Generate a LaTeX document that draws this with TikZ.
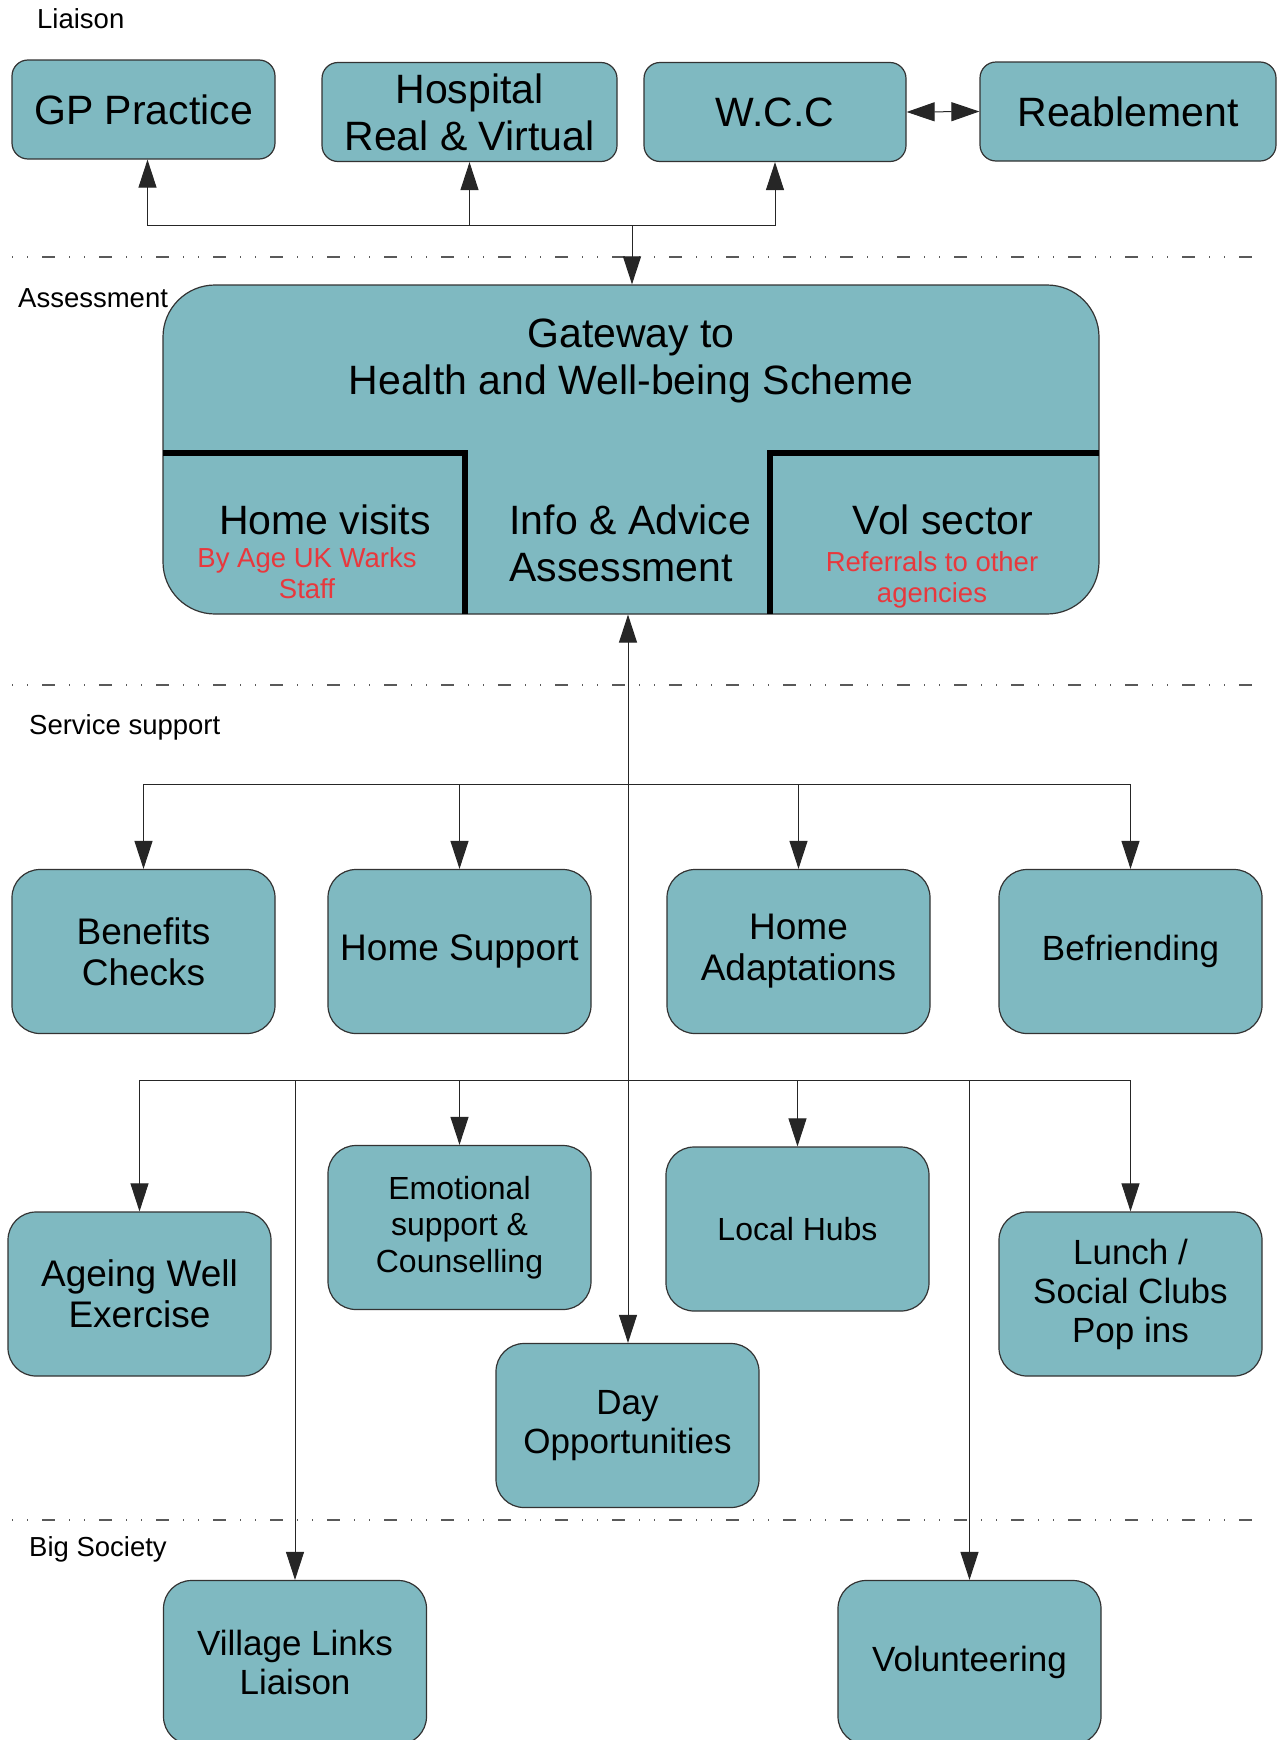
\documentclass[tikz,border=0pt]{standalone}
\usepackage{fontspec}
\setmainfont{Liberation Sans}
\usetikzlibrary{arrows.meta}
\definecolor{boxfill}{RGB}{127,185,193}
\definecolor{notered}{RGB}{232,56,61}
\newcommand{\bigtxt}{\fontsize{41}{47}\selectfont}
\newcommand{\midtxt}{\fontsize{37}{41}\selectfont}
\newcommand{\rowtxt}{\fontsize{35}{39}\selectfont}
\newcommand{\smalltxt}{\fontsize{32}{36.6}\selectfont}
\newcommand{\notetxt}{\fontsize{27.5}{31}\selectfont}

\begin{document}
\begin{tikzpicture}[x=1pt, y=-1pt,
  box/.style={rectangle, draw=black!80, fill=boxfill, line width=1.2pt, rounded corners=28pt, align=center, inner sep=0pt, minimum width=263pt, minimum height=164pt},
  topbox/.style={box, rounded corners=16pt, minimum height=99pt},
  link/.style={draw=black!85, line width=1pt},
  pointer/.style={-{Triangle[length=28pt,width=18pt]}},
  divider/.style={line width=6pt},
  layerline/.style={draw=black!65, line width=1.5pt, dash pattern=on 1pt off 14pt on 1pt off 14pt on 13pt off 14pt},
  layerlabel/.style={anchor=west, inner sep=0pt, font=\notetxt}]
\useasboundingbox (0,0) rectangle (1277,1740);

\draw[layerline] (12,257) -- (1252,257);
\draw[layerline] (12,685) -- (1252,685);
\draw[layerline] (12,1520) -- (1252,1520);

\node[layerlabel] (liaison) at (37,19) {Liaison};
\node[layerlabel] (assess) at (18,298) {Assessment};
\node[layerlabel] (service) at (29,727) {Service support};
\node[layerlabel] (bigsociety) at (29,1549) {Big Society};

\node[topbox, minimum width=263pt, font=\bigtxt] (gp) at (143.5,109.5) {GP Practice};
\node[topbox, minimum width=295pt, font=\bigtxt] (hospital) at (469.5,112) {Hospital\\Real \& Virtual};
\node[topbox, minimum width=262pt, font=\bigtxt] (wcc) at (775,112) {W.C.C};
\node[topbox, minimum width=296pt, font=\bigtxt] (reablement) at (1128,111.5) {Reablement};

\node[box, rounded corners=52pt, minimum width=936pt, minimum height=329pt] (gateway) at (631,449.5) {};
\draw[divider] (163,453) -- (464.5,453) -- (464.5,614);
\draw[divider] (1099,453) -- (769.5,453) -- (769.5,614);
\node[font=\bigtxt, align=center] (gwtitle) at (631,360.5) {Gateway to\\Health and Well-being Scheme};
\node[font=\bigtxt] (visits) at (325,520) {Home visits};
\node[font=\notetxt, text=notered, align=center] (visitsnote) at (307,573) {By Age UK Warks\\Staff};
\node[font=\bigtxt, align=left, anchor=west] (advice) at (506,543) {Info \& Advice\\Assessment};
\node[font=\bigtxt] (volsector) at (943,520) {Vol sector};
\node[font=\notetxt, text=notered, align=center] (volnote) at (932,580) {Referrals to other\\agencies};

\node[box, font=\midtxt] (benefits) at (143.5,951.5) {Benefits\\Checks};
\node[box, font=\midtxt] (homesupport) at (459.5,951.5) {Home Support};
\node[box, font=\midtxt] (adaptations) at (798.5,951.5) {Home\\Adaptations};
\node[box, font=\rowtxt] (befriending) at (1130.5,951.5) {Befriending};

\node[box, font=\midtxt] (ageing) at (139.5,1294) {Ageing Well\\Exercise};
\node[box, font=\smalltxt] (emotional) at (459.5,1227.5) {Emotional\\support \&\\Counselling};
\node[box, font=\smalltxt] (hubs) at (797.5,1229) {Local Hubs};
\node[box, font=\rowtxt] (lunch) at (1130.5,1294) {Lunch /\\Social Clubs\\Pop ins};
\node[box, font=\rowtxt] (dayopp) at (627.5,1425.5) {Day\\Opportunities};
\node[box, font=\rowtxt] (village) at (295,1662.5) {Village Links\\Liaison};
\node[box, font=\rowtxt] (volunteer) at (969.5,1662.5) {Volunteering};

\coordinate (topjoin) at (632,225);
\coordinate (upper) at (628,784);
\coordinate (lower) at (628,1080);

\draw[link, pointer] (topjoin) -- (topjoin |- gateway.north);
\draw[link, pointer] (topjoin) -| ([xshift=4pt]gp.south);
\draw[link, pointer] (topjoin) -| (hospital.south);
\draw[link, pointer] (topjoin) -| (wcc.south);
\draw[link, {Triangle[length=28pt,width=19pt]}-{Triangle[length=28pt,width=19pt]}] (wcc.east) -- (reablement.west);

\draw[link, pointer] (lower) -- (lower |- gateway.south);
\draw[link, pointer] (upper) -| (benefits.north);
\draw[link, pointer] (upper) -| (homesupport.north);
\draw[link, pointer] (upper) -| (adaptations.north);
\draw[link, pointer] (upper) -| (befriending.north);

\draw[link, pointer] (lower) -| (ageing.north);
\draw[link, pointer] (lower) -| (village.north);
\draw[link, pointer] (lower) -| (emotional.north);
\draw[link, pointer] (lower) -- (lower |- dayopp.north);
\draw[link, pointer] (lower) -| (hubs.north);
\draw[link, pointer] (lower) -| (volunteer.north);
\draw[link, pointer] (lower) -| (lunch.north);
\end{tikzpicture}
\end{document}
